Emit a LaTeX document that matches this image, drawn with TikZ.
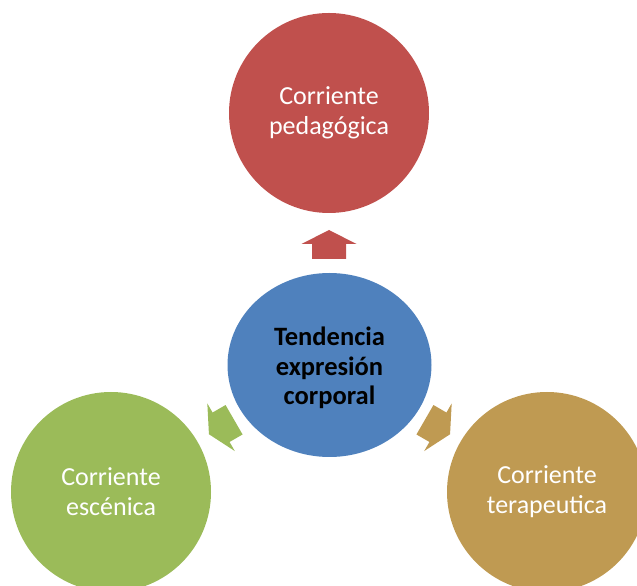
\documentclass[tikz,border=0pt]{standalone}
\usepackage{fontspec}
\setmainfont{Carlito}
\usetikzlibrary{shapes.geometric}
\definecolor{cred}{HTML}{C0504D}
\definecolor{cblue}{HTML}{4F81BD}
\definecolor{cgreen}{HTML}{9BBB59}
\definecolor{ctan}{HTML}{BF9A52}
\newcommand{\blockarrow}[4]{%
  \fill[#4, shift={(#1,#2)}, rotate=#3]
    (-14.5,-17) -- (0.5,-17) -- (0.5,-27.5) -- (14.5,0) -- (0.5,27.5) -- (0.5,17) -- (-14.5,17) -- cycle;}
\begin{document}
\begin{tikzpicture}[x=1pt,y=1pt,
  bubble/.style={circle, minimum size=200pt, inner sep=0pt, text=white,
    font=\fontsize{26}{30}\selectfont, align=center},
  hub/.style={ellipse, minimum width=204pt, minimum height=184pt, inner sep=0pt,
    fill=cblue, text=black, font=\bfseries\fontsize{26.5}{29.5}\selectfont, align=center}]
\useasboundingbox (0,0) rectangle (637,586);
\clip (0,0) rectangle (637,586);
\node[bubble, fill=cred] (ped) at (329,473) {Corriente\\pedagógica};
\node[bubble, fill=cgreen] (esc) at (111,94) {Corriente\\escénica};
\node[bubble, fill=ctan] (ter) at (547,94) {Corriente\\terapeutica};
\node[hub] (hub) at (329.5,221) {};
\node[text=black, font=\bfseries\fontsize{26.5}{29.5}\selectfont, align=center] (hubtext) at ([yshift=-3pt]hub.center) {Tendencia\\expresión\\corporal};
\blockarrow{329}{341.5}{90}{cred}
\blockarrow{221.5}{159}{210}{cgreen}
\blockarrow{437.5}{159}{-30}{ctan}
\end{tikzpicture}
\end{document}
